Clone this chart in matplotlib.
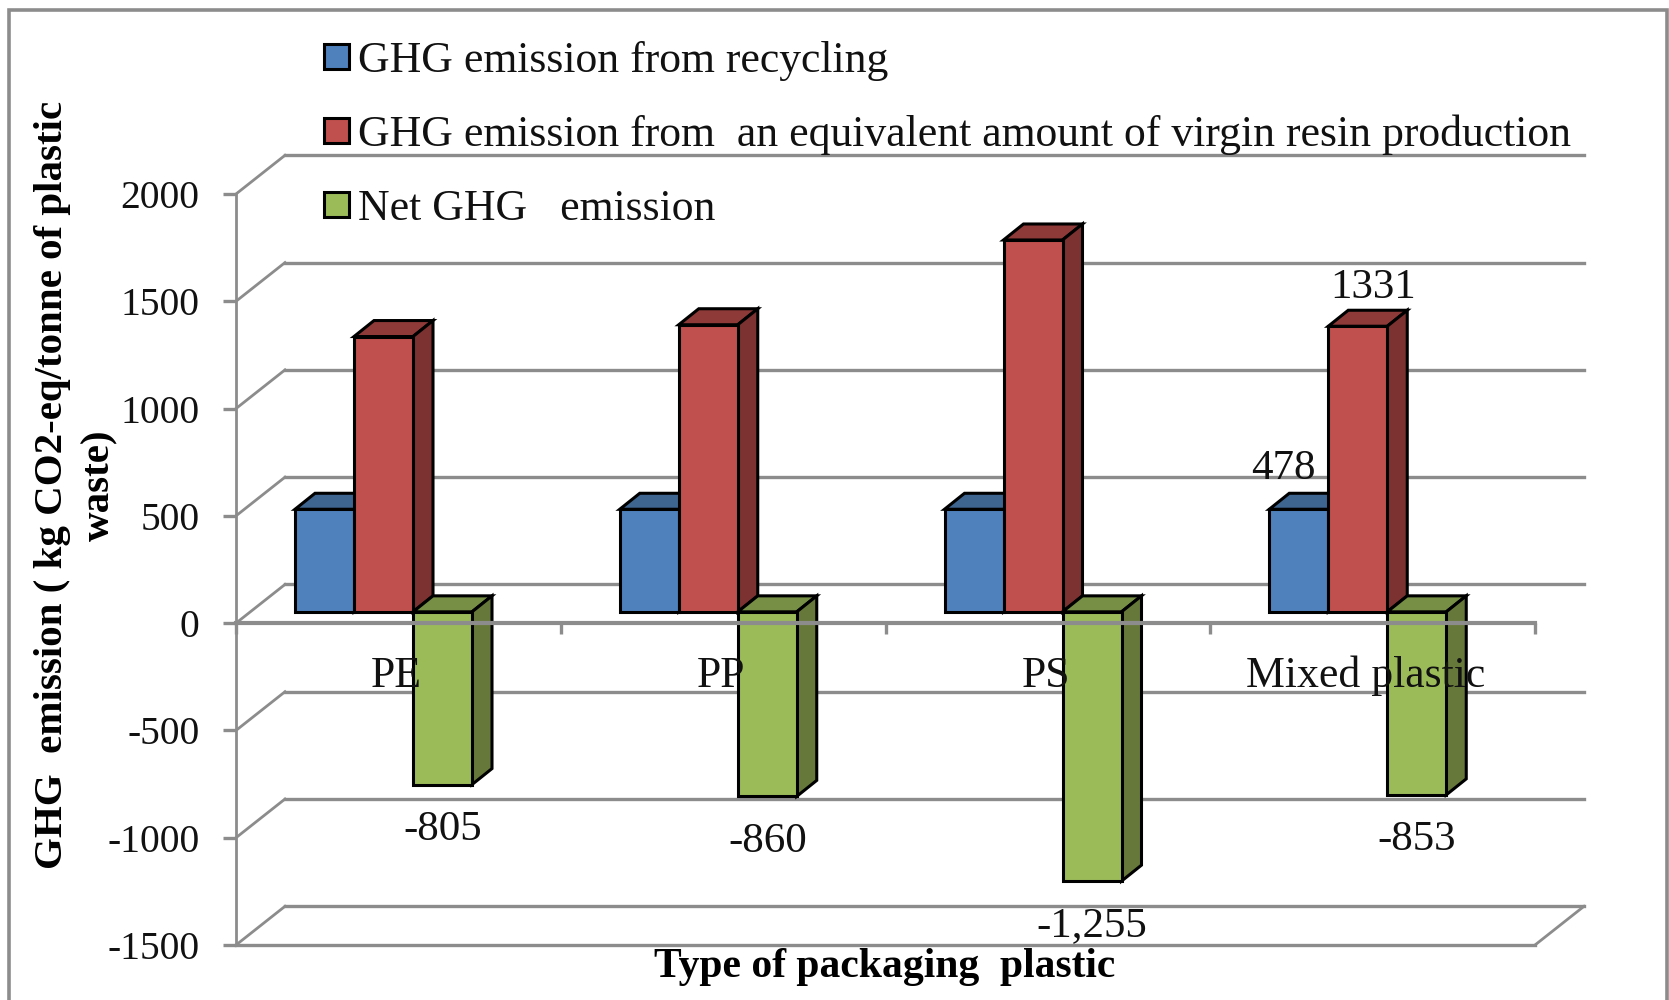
import matplotlib
matplotlib.use("Agg")
import matplotlib.pyplot as plt
import numpy as np
from matplotlib.patches import Polygon, Rectangle

plt.rcParams["font.family"] = ["Liberation Serif", "DejaVu Serif"]

categories = ["PE", "PP", "PS", "Mixed plastic"]
recycling = [478, 478, 478, 478]
virgin = [1283, 1338, 1733, 1331]
net = [-805, -860, -1255, -853]
series_names = [
    "GHG emission from recycling",
    "GHG emission from  an equivalent amount of virgin resin production",
    "Net GHG   emission",
]
y_ticks = [-1500, -1000, -500, 0, 500, 1000, 1500, 2000]

W, H = 1669, 1000
LEFT, RIGHT, TOP, BOTTOM = 236, 1535, 194, 945
GRAY = "#8c8c8c"

front = ["#4f81bd", "#c0504d", "#9bbb59"]
roof = ["#3e6490", "#8e3a38", "#778f45"]
side = ["#3a5d87", "#7c3230", "#67793a"]

fig = plt.figure(figsize=(W / 100, H / 100), dpi=100)
ax = fig.add_axes([LEFT / W, 1 - BOTTOM / H, (RIGHT - LEFT) / W, (BOTTOM - TOP) / H])
ax.set_xlim(0, 4)
ax.set_ylim(-1500, 2000)
ax.patch.set_visible(False)

# px to data scale
sx = 4 / (RIGHT - LEFT)
sy = 3500 / (BOTTOM - TOP)

# back wall and left wall lines (fake 3d)
wall_dx, wall_dy = 49 * sx, 38.7 * sy
for t in y_ticks:
    ax.plot([wall_dx, 4 + wall_dx], [t + wall_dy, t + wall_dy], color=GRAY, lw=2.4, zorder=1, clip_on=False)
    ax.plot([0, wall_dx], [t, t + wall_dy], color=GRAY, lw=2.0, zorder=1, clip_on=False)
ax.plot([0, 4], [-1500, -1500], color=GRAY, lw=2.4, zorder=1, clip_on=False)
ax.plot([4, 4 + wall_dx], [-1500, -1500 + wall_dy], color=GRAY, lw=2.0, zorder=1, clip_on=False)

# bars sit a little behind the axis plane
base = 11.3 * sy
bar_w = 59 * sx
dx, dy = 20 * sx, 16 * sy
x0 = np.arange(4) + 59 * sx
edge_lw = 2.2

handles = []
for s, vals in enumerate([recycling, virgin, net]):
    xs = x0 + s * bar_w
    for x, v in zip(xs, vals):
        y_top = max(v, 0) + base
        y_low = min(v, 0) + base
        r = x + bar_w
        ax.add_patch(Polygon([(x, y_top), (r, y_top), (r + dx, y_top + dy), (x + dx, y_top + dy)],
                             fc=roof[s], ec="black", lw=edge_lw, zorder=2 + s * 0.1, clip_on=False))
        ax.add_patch(Polygon([(r, y_top), (r + dx, y_top + dy), (r + dx, y_low + dy), (r, y_low)],
                             fc=side[s], ec="black", lw=edge_lw, zorder=2 + s * 0.1, clip_on=False))
    b = ax.bar(xs, vals, width=bar_w, bottom=base, align="edge", color=front[s], edgecolor="black",
               linewidth=edge_lw, zorder=2.05 + s * 0.1, label=series_names[s], clip_on=False)
    handles.append(b)

ax.spines["top"].set_visible(False)
ax.spines["right"].set_visible(False)
ax.spines["bottom"].set_position(("data", 0))
for name in ["left", "bottom"]:
    ax.spines[name].set_color(GRAY)
    ax.spines[name].set_zorder(2.6)
ax.spines["left"].set_linewidth(2.0)
ax.spines["bottom"].set_linewidth(3.0)

ax.set_yticks(y_ticks)
ax.set_yticklabels([str(t) for t in y_ticks], fontsize=28.5, color="#111111")
ax.tick_params(axis="y", length=9.4, width=2.4, color=GRAY, pad=17)
ax.set_xticks(range(5))
ax.set_xticklabels([])
ax.tick_params(axis="x", length=8, width=2.4, color=GRAY)

# the last label sits slightly left of the others in the original
for i, (c, shift) in enumerate(zip(categories, [0.495, 0.495, 0.495, 0.478])):
    ax.text(i + shift, -245, c, ha="center", va="center", fontsize=31.5, color="#111111", zorder=4)

# data labels, offsets in points
pt = 0.72
for i, v in enumerate(net):
    ax.annotate(f"{v:,}", (x0[i] + 2.5 * bar_w, v + base), xytext=(0, -45 * pt), textcoords="offset points",
                ha="center", va="center", fontsize=31, color="#111111", zorder=4, annotation_clip=False)
ax.annotate(str(recycling[3]), (x0[3] + 0.5 * bar_w, recycling[3] + base), xytext=(-15 * pt, 41 * pt),
            textcoords="offset points", ha="center", va="center", fontsize=31, color="#111111", zorder=4)
ax.annotate(str(virgin[3]), (x0[3] + 1.5 * bar_w, virgin[3] + base), xytext=(15 * pt, 38 * pt),
            textcoords="offset points", ha="center", va="center", fontsize=31, color="#111111", zorder=4)

ax.set_xlabel("Type of packaging  plastic", fontsize=30, fontweight="bold", ha="center", va="center")
ax.xaxis.set_label_coords((885 - LEFT) / (RIGHT - LEFT), (BOTTOM - 967) / (BOTTOM - TOP))
ax.set_ylabel("GHG  emission ( kg CO2-eq/tonne of plastic\nwaste)", fontsize=29.5, fontweight="bold",
              ha="center", va="center", linespacing=1.35)
ax.yaxis.set_label_coords((76 - LEFT) / (RIGHT - LEFT), (BOTTOM - 485) / (BOTTOM - TOP))

leg = ax.legend(handles=handles, loc="upper left", bbox_to_anchor=(324 / W, 1 - 41 / H),
                bbox_transform=fig.transFigure, frameon=False, fontsize=31.5, borderpad=0, borderaxespad=0,
                handlelength=0.57, handleheight=0.52, handletextpad=0.2, labelspacing=0.77)
for t in leg.get_texts():
    t.set_color("#111111")

# outer frame, runs off the bottom like the original
fig.add_artist(Rectangle((9 / W, -0.02), (1667 - 9) / W, 1.02 - 10 / H, transform=fig.transFigure,
                         fc="none", ec=GRAY, lw=2.6))

fig.savefig("out.png", dpi=100)
